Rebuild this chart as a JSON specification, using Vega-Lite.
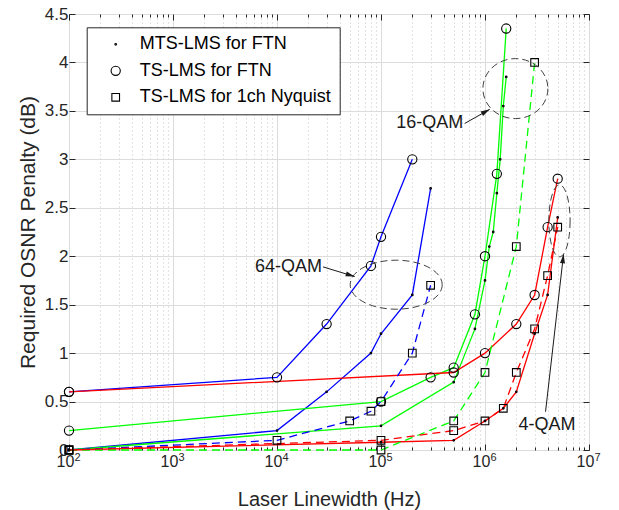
{
  "$schema": "https://vega.github.io/schema/vega-lite/v6.json",
  "width": 520,
  "height": 436,
  "autosize": {"type": "none"},
  "padding": {"left": 69, "top": 14, "right": 30, "bottom": 60},
  "config": {
    "font": "Liberation Sans",
    "view": {"stroke": "#262626", "strokeWidth": 1},
    "legend": {
      "title": null,
      "labelFontSize": 18, "labelColor": "#000000", "labelFont": "Liberation Sans", "labelLimit": 400,
      "strokeColor": "#262626", "fillColor": "white", "padding": 8, "rowPadding": 8.5,
      "symbolOffset": 12, "labelOffset": 15, "symbolStrokeColor": "black", "symbolStrokeWidth": 1.1, "symbolSize": 85
    }
  },
  "datasets": {
    "curves": [
      {"mod": "64-QAM", "method": "MTS-LMS for FTN", "lw": 100, "osnr": 0},
      {"mod": "64-QAM", "method": "MTS-LMS for FTN", "lw": 10000, "osnr": 0.2},
      {"mod": "64-QAM", "method": "MTS-LMS for FTN", "lw": 30000, "osnr": 0.6},
      {"mod": "64-QAM", "method": "MTS-LMS for FTN", "lw": 80000, "osnr": 1.0},
      {"mod": "64-QAM", "method": "MTS-LMS for FTN", "lw": 100000, "osnr": 1.2},
      {"mod": "64-QAM", "method": "MTS-LMS for FTN", "lw": 200000, "osnr": 1.6},
      {"mod": "64-QAM", "method": "MTS-LMS for FTN", "lw": 300000, "osnr": 2.7},
      {"mod": "64-QAM", "method": "TS-LMS for FTN", "lw": 100, "osnr": 0.6},
      {"mod": "64-QAM", "method": "TS-LMS for FTN", "lw": 10000, "osnr": 0.75},
      {"mod": "64-QAM", "method": "TS-LMS for FTN", "lw": 30000, "osnr": 1.3},
      {"mod": "64-QAM", "method": "TS-LMS for FTN", "lw": 80000, "osnr": 1.9},
      {"mod": "64-QAM", "method": "TS-LMS for FTN", "lw": 100000, "osnr": 2.2},
      {"mod": "64-QAM", "method": "TS-LMS for FTN", "lw": 200000, "osnr": 3.0},
      {"mod": "64-QAM", "method": "TS-LMS for 1ch Nyquist", "lw": 100, "osnr": 0},
      {"mod": "64-QAM", "method": "TS-LMS for 1ch Nyquist", "lw": 10000, "osnr": 0.1},
      {"mod": "64-QAM", "method": "TS-LMS for 1ch Nyquist", "lw": 50000, "osnr": 0.3},
      {"mod": "64-QAM", "method": "TS-LMS for 1ch Nyquist", "lw": 80000, "osnr": 0.4},
      {"mod": "64-QAM", "method": "TS-LMS for 1ch Nyquist", "lw": 100000, "osnr": 0.5},
      {"mod": "64-QAM", "method": "TS-LMS for 1ch Nyquist", "lw": 200000, "osnr": 1.0},
      {"mod": "64-QAM", "method": "TS-LMS for 1ch Nyquist", "lw": 300000, "osnr": 1.7},
      {"mod": "16-QAM", "method": "MTS-LMS for FTN", "lw": 100, "osnr": 0},
      {"mod": "16-QAM", "method": "MTS-LMS for FTN", "lw": 100000, "osnr": 0.25},
      {"mod": "16-QAM", "method": "MTS-LMS for FTN", "lw": 500000, "osnr": 0.7},
      {"mod": "16-QAM", "method": "MTS-LMS for FTN", "lw": 800000, "osnr": 1.25},
      {"mod": "16-QAM", "method": "MTS-LMS for FTN", "lw": 1000000, "osnr": 1.75},
      {"mod": "16-QAM", "method": "MTS-LMS for FTN", "lw": 1100000, "osnr": 2.1},
      {"mod": "16-QAM", "method": "MTS-LMS for FTN", "lw": 1200000, "osnr": 2.25},
      {"mod": "16-QAM", "method": "MTS-LMS for FTN", "lw": 1300000, "osnr": 2.65},
      {"mod": "16-QAM", "method": "MTS-LMS for FTN", "lw": 1400000, "osnr": 3.0},
      {"mod": "16-QAM", "method": "MTS-LMS for FTN", "lw": 1500000, "osnr": 3.55},
      {"mod": "16-QAM", "method": "MTS-LMS for FTN", "lw": 1600000, "osnr": 3.85},
      {"mod": "16-QAM", "method": "TS-LMS for FTN", "lw": 100, "osnr": 0.2},
      {"mod": "16-QAM", "method": "TS-LMS for FTN", "lw": 100000, "osnr": 0.5},
      {"mod": "16-QAM", "method": "TS-LMS for FTN", "lw": 300000, "osnr": 0.75},
      {"mod": "16-QAM", "method": "TS-LMS for FTN", "lw": 500000, "osnr": 0.85},
      {"mod": "16-QAM", "method": "TS-LMS for FTN", "lw": 800000, "osnr": 1.4},
      {"mod": "16-QAM", "method": "TS-LMS for FTN", "lw": 1000000, "osnr": 2.0},
      {"mod": "16-QAM", "method": "TS-LMS for FTN", "lw": 1300000, "osnr": 2.85},
      {"mod": "16-QAM", "method": "TS-LMS for FTN", "lw": 1600000, "osnr": 4.35},
      {"mod": "16-QAM", "method": "TS-LMS for 1ch Nyquist", "lw": 100, "osnr": 0},
      {"mod": "16-QAM", "method": "TS-LMS for 1ch Nyquist", "lw": 100000, "osnr": 0},
      {"mod": "16-QAM", "method": "TS-LMS for 1ch Nyquist", "lw": 500000, "osnr": 0.3},
      {"mod": "16-QAM", "method": "TS-LMS for 1ch Nyquist", "lw": 1000000, "osnr": 0.8},
      {"mod": "16-QAM", "method": "TS-LMS for 1ch Nyquist", "lw": 2000000, "osnr": 2.1},
      {"mod": "16-QAM", "method": "TS-LMS for 1ch Nyquist", "lw": 3000000, "osnr": 4.0},
      {"mod": "4-QAM", "method": "MTS-LMS for FTN", "lw": 100, "osnr": 0},
      {"mod": "4-QAM", "method": "MTS-LMS for FTN", "lw": 100000, "osnr": 0.08},
      {"mod": "4-QAM", "method": "MTS-LMS for FTN", "lw": 500000, "osnr": 0.1},
      {"mod": "4-QAM", "method": "MTS-LMS for FTN", "lw": 1000000, "osnr": 0.3},
      {"mod": "4-QAM", "method": "MTS-LMS for FTN", "lw": 1500000, "osnr": 0.43},
      {"mod": "4-QAM", "method": "MTS-LMS for FTN", "lw": 2000000, "osnr": 0.6},
      {"mod": "4-QAM", "method": "MTS-LMS for FTN", "lw": 3000000, "osnr": 1.2},
      {"mod": "4-QAM", "method": "MTS-LMS for FTN", "lw": 4000000, "osnr": 1.6},
      {"mod": "4-QAM", "method": "MTS-LMS for FTN", "lw": 5000000, "osnr": 2.4},
      {"mod": "4-QAM", "method": "TS-LMS for FTN", "lw": 100, "osnr": 0.6},
      {"mod": "4-QAM", "method": "TS-LMS for FTN", "lw": 500000, "osnr": 0.8},
      {"mod": "4-QAM", "method": "TS-LMS for FTN", "lw": 1000000, "osnr": 1.0},
      {"mod": "4-QAM", "method": "TS-LMS for FTN", "lw": 2000000, "osnr": 1.3},
      {"mod": "4-QAM", "method": "TS-LMS for FTN", "lw": 3000000, "osnr": 1.6},
      {"mod": "4-QAM", "method": "TS-LMS for FTN", "lw": 4000000, "osnr": 2.3},
      {"mod": "4-QAM", "method": "TS-LMS for FTN", "lw": 5000000, "osnr": 2.8},
      {"mod": "4-QAM", "method": "TS-LMS for 1ch Nyquist", "lw": 100, "osnr": 0},
      {"mod": "4-QAM", "method": "TS-LMS for 1ch Nyquist", "lw": 100000, "osnr": 0.1},
      {"mod": "4-QAM", "method": "TS-LMS for 1ch Nyquist", "lw": 500000, "osnr": 0.2},
      {"mod": "4-QAM", "method": "TS-LMS for 1ch Nyquist", "lw": 1000000, "osnr": 0.3},
      {"mod": "4-QAM", "method": "TS-LMS for 1ch Nyquist", "lw": 1500000, "osnr": 0.43},
      {"mod": "4-QAM", "method": "TS-LMS for 1ch Nyquist", "lw": 2000000, "osnr": 0.8},
      {"mod": "4-QAM", "method": "TS-LMS for 1ch Nyquist", "lw": 3000000, "osnr": 1.25},
      {"mod": "4-QAM", "method": "TS-LMS for 1ch Nyquist", "lw": 4000000, "osnr": 1.8},
      {"mod": "4-QAM", "method": "TS-LMS for 1ch Nyquist", "lw": 5000000, "osnr": 2.3}
    ],
    "ellipses": [
      {"label": "64-QAM", "lw": 140000, "osnr": 1.706},
      {"label": "16-QAM", "lw": 1960000, "osnr": 3.73},
      {"label": "4-QAM", "lw": 5200000, "osnr": 2.365}
    ],
    "arrows": [
      {"label": "64-QAM", "lw": 27700, "osnr": 1.89, "lw2": 55800, "osnr2": 1.79},
      {"label": "16-QAM", "lw": 637000, "osnr": 3.37, "lw2": 1110000, "osnr2": 3.516},
      {"label": "4-QAM", "lw": 3820000, "osnr": 0.395, "lw2": 5690000, "osnr2": 2.02}
    ],
    "labels": [
      {"label": "64-QAM", "lw": 12900, "osnr": 1.885},
      {"label": "16-QAM", "lw": 294000, "osnr": 3.37},
      {"label": "4-QAM", "lw": 3940000, "osnr": 0.258}
    ]
  },
  "resolve": {"axis": {"x": "independent", "y": "independent"}},
  "layer": [
    {
      "data": {"name": "curves"},
      "transform": [{"filter": "datum.method !== 'TS-LMS for 1ch Nyquist'"}],
      "mark": {"type": "line", "strokeWidth": 1.3},
      "encoding": {
        "x": {
          "field": "lw", "type": "quantitative",
          "scale": {"type": "log", "domain": [100, 10000000]},
          "axis": {
            "orient": "bottom", "values": [100, 1000, 10000, 100000, 1000000, 10000000],
            "labelExpr": "'10'",
            "labelFlush": false, "labelOverlap": false, "labelOffset": -4,
            "grid": true, "gridColor": "#dcdcdc", "tickSize": -6, "tickColor": "#262626",
            "domain": false, "labelPadding": 9, "labelFontSize": 16, "labelColor": "#262626",
            "title": "Laser Linewidth (Hz)", "titleFontSize": 20, "titleFontWeight": "normal",
            "titleColor": "#262626", "titlePadding": 20
          }
        },
        "y": {
          "field": "osnr", "type": "quantitative",
          "scale": {"domain": [0, 4.5]},
          "axis": {
            "orient": "left", "values": [0, 0.5, 1, 1.5, 2, 2.5, 3, 3.5, 4, 4.5], "format": "~g",
            "labelFlush": false, "labelOverlap": false,
            "grid": true, "gridColor": "#dcdcdc", "tickSize": -6, "tickColor": "#262626",
            "domain": false, "labelPadding": 7, "labelFontSize": 17, "labelColor": "#262626",
            "title": "Required OSNR Penalty (dB)", "titleFontSize": 21, "titleFontWeight": "normal",
            "titleColor": "#262626", "titlePadding": 6
          }
        },
        "color": {
          "field": "mod", "type": "nominal",
          "scale": {"domain": ["64-QAM", "16-QAM", "4-QAM"], "range": ["#0000ff", "#00ff00", "#ff0000"]},
          "legend": null
        },
        "detail": {"field": "method", "type": "nominal"}
      }
    },
    {
      "data": {"name": "curves"},
      "transform": [{"filter": "datum.method === 'TS-LMS for 1ch Nyquist'"}],
      "mark": {"type": "line", "strokeWidth": 1.3, "strokeDash": [8, 5]},
      "encoding": {
        "x": {
          "field": "lw", "type": "quantitative",
          "axis": {
            "orient": "bottom", "values": [100, 1000, 10000, 100000, 1000000, 10000000],
            "labelExpr": "round(log(datum.value)/LN10)",
            "labelFlush": false, "labelOverlap": false, "labelOffset": 8,
            "grid": false, "ticks": false, "domain": false, "labelPadding": 1,
            "labelFontSize": 11, "labelColor": "#262626", "title": null
          }
        },
        "y": {"field": "osnr", "type": "quantitative", "axis": null},
        "color": {"field": "mod", "type": "nominal", "legend": null}
      }
    },
    {
      "data": {"name": "curves"},
      "mark": {"type": "point", "filled": false, "color": "black", "strokeWidth": 1.1, "opacity": 1, "size": 85},
      "encoding": {
        "x": {
          "field": "lw", "type": "quantitative",
          "axis": {
            "orient": "bottom",
            "values": [200, 300, 400, 500, 600, 700, 800, 900, 2000, 3000, 4000, 5000, 6000, 7000, 8000, 9000, 20000, 30000, 40000, 50000, 60000, 70000, 80000, 90000, 200000, 300000, 400000, 500000, 600000, 700000, 800000, 900000, 2000000, 3000000, 4000000, 5000000, 6000000, 7000000, 8000000, 9000000],
            "labels": false, "grid": true, "gridDash": [1, 3], "gridColor": "#c4c4c4",
            "tickSize": -3, "tickColor": "#262626", "domain": false, "title": null
          }
        },
        "y": {
          "field": "osnr", "type": "quantitative",
          "axis": {
            "orient": "right", "values": [0, 0.5, 1, 1.5, 2, 2.5, 3, 3.5, 4, 4.5],
            "labels": false, "grid": false, "tickSize": -6, "tickColor": "#262626", "domain": false, "title": null
          }
        },
        "shape": {
          "field": "method", "type": "nominal",
          "scale": {
            "domain": ["MTS-LMS for FTN", "TS-LMS for FTN", "TS-LMS for 1ch Nyquist"],
            "range": [
              "M 0.18 0 C 0.18 0.1 0.1 0.18 0 0.18 C -0.1 0.18 -0.18 0.1 -0.18 0 C -0.18 -0.1 -0.1 -0.18 0 -0.18 C 0.1 -0.18 0.18 -0.1 0.18 0 Z",
              "circle",
              "M -0.83 -0.83 L 0.83 -0.83 L 0.83 0.83 L -0.83 0.83 Z"
            ]
          },
          "legend": {"orient": "none", "legendX": 17.7, "legendY": 13.3}
        }
      }
    },
    {
      "data": {"name": "ellipses"},
      "transform": [{"filter": "datum.label === '64-QAM'"}],
      "mark": {"type": "point", "filled": false, "color": "#404040", "strokeWidth": 1, "strokeDash": [7, 4], "opacity": 1, "size": 8464,
        "shape": "M 1 0 C 1 0.2944 0.5523 0.533 0 0.533 C -0.5523 0.533 -1 0.2944 -1 0 C -1 -0.2944 -0.5523 -0.533 0 -0.533 C 0.5523 -0.533 1 -0.2944 1 0 Z"},
      "encoding": {
        "x": {
          "field": "lw", "type": "quantitative",
          "axis": {
            "orient": "top", "values": [100, 1000, 10000, 100000, 1000000, 10000000],
            "labels": false, "grid": false, "tickSize": -6, "tickColor": "#262626", "domain": false, "title": null
          }
        },
        "y": {"field": "osnr", "type": "quantitative", "axis": null}
      }
    },
    {
      "data": {"name": "ellipses"},
      "transform": [{"filter": "datum.label === '16-QAM'"}],
      "mark": {"type": "point", "filled": false, "color": "#404040", "strokeWidth": 1, "strokeDash": [7, 4], "opacity": 1, "size": 4225,
        "shape": "M 1 0 C 1 0.5098 0.5523 0.923 0 0.923 C -0.5523 0.923 -1 0.5098 -1 0 C -1 -0.5098 -0.5523 -0.923 0 -0.923 C 0.5523 -0.923 1 -0.5098 1 0 Z"},
      "encoding": {
        "x": {
          "field": "lw", "type": "quantitative",
          "axis": {
            "orient": "top",
            "values": [200, 300, 400, 500, 600, 700, 800, 900, 2000, 3000, 4000, 5000, 6000, 7000, 8000, 9000, 20000, 30000, 40000, 50000, 60000, 70000, 80000, 90000, 200000, 300000, 400000, 500000, 600000, 700000, 800000, 900000, 2000000, 3000000, 4000000, 5000000, 6000000, 7000000, 8000000, 9000000],
            "labels": false, "grid": false, "tickSize": -3, "tickColor": "#262626", "domain": false, "title": null
          }
        },
        "y": {"field": "osnr", "type": "quantitative", "axis": null}
      }
    },
    {
      "data": {"name": "ellipses"},
      "transform": [{"filter": "datum.label === '4-QAM'"}],
      "mark": {"type": "point", "filled": false, "color": "#404040", "strokeWidth": 1, "strokeDash": [7, 4], "opacity": 1, "size": 5184,
        "shape": "M 0.296 0 C 0.296 0.5523 0.1635 1 0 1 C -0.1635 1 -0.296 0.5523 -0.296 0 C -0.296 -0.5523 -0.1635 -1 0 -1 C 0.1635 -1 0.296 -0.5523 0.296 0 Z"},
      "encoding": {
        "x": {"field": "lw", "type": "quantitative", "axis": null},
        "y": {"field": "osnr", "type": "quantitative", "axis": null}
      }
    },
    {
      "data": {"name": "arrows"},
      "mark": {"type": "rule", "color": "#1a1a1a", "strokeWidth": 1},
      "encoding": {
        "x": {"field": "lw", "type": "quantitative", "axis": null},
        "y": {"field": "osnr", "type": "quantitative", "axis": null},
        "x2": {"field": "lw2"},
        "y2": {"field": "osnr2"}
      }
    },
    {
      "data": {"name": "arrows"},
      "transform": [{"filter": "datum.label === '64-QAM'"}],
      "mark": {"type": "point", "shape": "M 0 0 L 0.28 1 L -0.28 1 Z", "size": 324, "angle": 107, "filled": true, "color": "#1a1a1a", "opacity": 1, "strokeWidth": 0},
      "encoding": {
        "x": {"field": "lw2", "type": "quantitative", "axis": null},
        "y": {"field": "osnr2", "type": "quantitative", "axis": null}
      }
    },
    {
      "data": {"name": "arrows"},
      "transform": [{"filter": "datum.label === '16-QAM'"}],
      "mark": {"type": "point", "shape": "M 0 0 L 0.28 1 L -0.28 1 Z", "size": 324, "angle": 61, "filled": true, "color": "#1a1a1a", "opacity": 1, "strokeWidth": 0},
      "encoding": {
        "x": {"field": "lw2", "type": "quantitative", "axis": null},
        "y": {"field": "osnr2", "type": "quantitative", "axis": null}
      }
    },
    {
      "data": {"name": "arrows"},
      "transform": [{"filter": "datum.label === '4-QAM'"}],
      "mark": {"type": "point", "shape": "M 0 0 L 0.28 1 L -0.28 1 Z", "size": 324, "angle": 6.5, "filled": true, "color": "#1a1a1a", "opacity": 1, "strokeWidth": 0},
      "encoding": {
        "x": {"field": "lw2", "type": "quantitative", "axis": null},
        "y": {"field": "osnr2", "type": "quantitative", "axis": null}
      }
    },
    {
      "data": {"name": "labels"},
      "mark": {"type": "text", "fontSize": 18, "color": "#1a1a1a", "align": "center", "baseline": "middle"},
      "encoding": {
        "x": {"field": "lw", "type": "quantitative", "axis": null},
        "y": {"field": "osnr", "type": "quantitative", "axis": null},
        "text": {"field": "label"}
      }
    }
  ]
}
